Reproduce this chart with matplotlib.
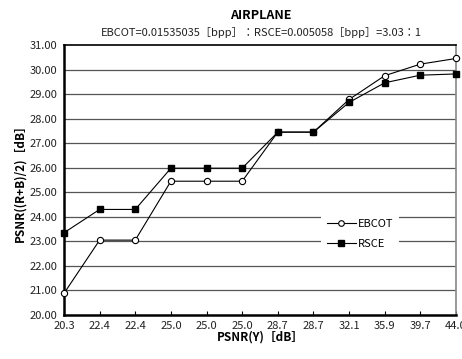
import matplotlib
matplotlib.use('Agg')
import matplotlib.pyplot as plt
import numpy as np
plt.rcParams['font.family'] = ['Noto Sans CJK JP', 'DejaVu Sans']

x_labels = ['20.3', '22.4', '22.4', '25.0', '25.0', '25.0', '28.7', '28.7', '32.1', '35.9', '39.7', '44.0']
ebcot = [20.88, 23.05, 23.05, 25.45, 25.45, 25.45, 27.45, 27.45, 28.78, 29.75, 30.22, 30.45]
rsce = [23.35, 24.30, 24.30, 25.98, 25.98, 25.98, 27.45, 27.45, 28.66, 29.46, 29.77, 29.82]
y_ticks = np.arange(20, 31.5, 1)

fig = plt.figure(figsize=(4.62, 3.59), dpi=100)
ax = fig.add_axes([0.1385, 0.1226, 0.8485, 0.7521])
x = np.arange(len(x_labels))

for yv in y_ticks[1:-1]:
    ax.axhline(yv, color='#555555', linewidth=0.9, zorder=1)

ax.plot(x, ebcot, '-o', color='black', linewidth=0.8, markersize=4.5,
        markerfacecolor='white', markeredgecolor='black', markeredgewidth=0.8,
        label='EBCOT', zorder=3, clip_on=False)
ax.plot(x, rsce, '-s', color='black', linewidth=0.8, markersize=4.5,
        markerfacecolor='black', label='RSCE', zorder=4, clip_on=False)

ax.set_xlim(0, len(x_labels) - 1)
ax.set_ylim(20, 31)
ax.set_xticks(x)
ax.set_xticklabels(x_labels, fontsize=8, color='#222222')
ax.set_yticks(y_ticks)
ax.set_yticklabels(['%.2f' % v for v in y_ticks], fontsize=8, color='#222222')
ax.tick_params(axis='x', direction='in', length=3, pad=4)
ax.tick_params(axis='y', length=0, pad=5)

ax.spines['left'].set_linewidth(1.8)
ax.spines['bottom'].set_linewidth(1.8)
ax.spines['top'].set_linewidth(1.2)
ax.spines['right'].set_color('#888888')
ax.spines['right'].set_linewidth(1.2)

ax.set_xlabel('PSNR(Y)［dB］', fontsize=8.5, fontweight='bold', labelpad=0)
ax.set_ylabel('PSNR((R+B)/2)［dB］', fontsize=8.5, fontweight='bold', labelpad=2)

leg = ax.legend(loc='center', bbox_to_anchor=(0.755, 0.30), frameon=True,
                fontsize=8, handlelength=2.6, borderpad=0.5, markerscale=0.9,
                labelspacing=0.9, handletextpad=0.2)
leg.get_frame().set_edgecolor('none')
leg.get_frame().set_facecolor('white')
leg.get_frame().set_alpha(1)
leg.set_zorder(5)

fig.text(0.565, 0.957, 'AIRPLANE', ha='center', va='center', fontsize=9, fontweight='bold')
fig.text(0.565, 0.91, 'EBCOT=0.01535035［bpp］：RSCE=0.005058［bpp］=3.03：1',
         ha='center', va='center', fontsize=8, color='#222222')

fig.savefig('out.png', dpi=100)
